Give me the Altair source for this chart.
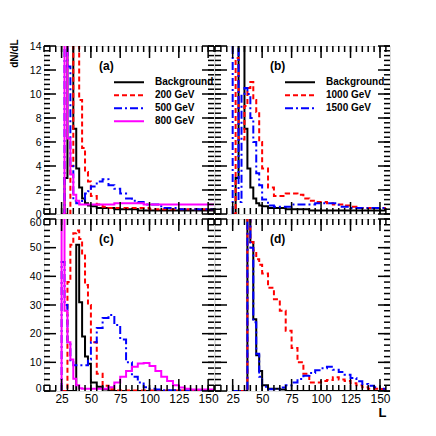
import altair as alt
import pandas as pd

# ---------------- data ----------------
edges = [25, 27.5, 30, 32.5, 35, 37.5, 40, 42.5, 45, 47.5, 50, 55, 60, 65, 70, 75, 80,
         85, 90, 95, 100, 105, 110, 115, 120, 125, 130, 135, 140, 145, 150, 155]

names_left = ["Background", "200 GeV", "500 GeV", "800 GeV"]
names_right = ["Background", "1000 GeV", "1500 GeV"]

# panel (a)
a_bkg = [0, 3, 22, 30, 7.1, 3.8, 2.2, 1.3, 0.9, 0.7,
         0.65, 0.5, 0.5, 0.5, 0.4, 0.4, 0.4, 0.4, 0.3, 0.3, 0.3, 0.3, 0.3, 0.3, 0.3, 0.3, 0.3, 0.3, 0.3, 0.3, 0.3]
a_red = [0, 0, 0, 4, 20, 16, 9.5, 5.5, 3.5, 2.7,
         1.5, 0.8, 0.6, 0.5, 0.5, 0.5, 0.5, 0.5, 0.5, 0.5, 0.4, 0.4, 0.4, 0.4, 0.4, 0.4, 0.4, 0.4, 0.4, 0.4, 0.4]
a_blue = [0, 20, 12.3, 4, 1.1, 0.9, 0.9, 1.2, 1.7, 1.9,
          2.3, 2.7, 2.9, 2.4, 2.1, 1.7, 1.3, 1.1, 1.0, 0.8, 0.8, 0.8, 0.5, 0.5, 0.5, 0.4, 0.4, 0.4, 0.4, 0.4, 0.4]
a_mag = [0, 25, 6.3, 3.3, 1.6, 1.1, 0.8, 0.8, 0.8, 0.8,
         0.8, 0.8, 0.8, 0.8, 0.9, 0.9, 0.9, 0.9, 0.9, 0.8, 0.8, 0.8, 0.8, 0.8, 0.8, 0.8, 0.8, 0.8, 0.8, 0.8, 0.8]

# panel (b)
b_bkg = a_bkg
b_red = [0, 13, 6.2, 6.2, 9, 10.5, 11, 9.5, 8.5, 6,
         3.8, 2.2, 1.5, 1.5, 1.7, 1.7, 1.6, 1.3, 1.1, 1.0, 1.0, 0.9, 0.8, 0.8, 0.7, 0.6, 0.5, 0.5, 0.5, 0.5, 0.5]
b_blue = [18, 18, 1, 10, 10.5, 10, 8, 6, 3.4, 2.4,
          1.2, 0.7, 0.6, 0.6, 0.6, 0.8, 0.8, 0.8, 0.8, 0.9, 0.9, 0.9, 0.9, 0.6, 0.6, 0.5, 0.5, 0.5, 0.5, 0.5, 0.5]

# panel (c)
c_bkg = [0, 0, 0, 0, 0, 51, 31, 19, 12, 9.5,
         3, 1.5, 0.5, 0, 0, 0, 0, 0, 0, 0, 0, 0, 0, 0, 0, 0, 0, 0, 0, 0, 0]
c_red = [0, 0, 38, 51, 55, 56, 53, 48, 37, 30,
         17, 6, 1.8, 0.6, 0.2, 0.2, 0.2, 0.2, 0.2, 0.2, 0.2, 0.2, 0.2, 0.2, 0.2, 0.2, 0.2, 0.2, 0.2, 0.2, 0.2]
c_blue = [45, 30, 17, 10, 9, 9, 9, 9, 9, 11,
          17, 22, 25.5, 26.5, 23, 18, 10, 5, 3, 1.3, 0.8, 0.5, 0.3, 0.3, 0.3, 0.3, 0.3, 0.3, 0.3, 0.3, 0.3]
c_mag = [75, 28, 17, 11, 4.3, 2, 1, 0.8, 0.8, 0.8,
         0.8, 0.8, 0.8, 1.3, 3, 5, 7, 8.5, 9.6, 9.8, 8.7, 7, 5, 3.5, 2, 1.2, 0.8, 0.5, 0.5, 0.5, 0.5]

# panel (d)
d_bkg = [0, 0, 0, 0, 0, 62, 52, 25, 12.5, 7,
         2, 0.8, 0.8, 0.5, 0, 0, 0, 0, 0, 0, 0, 0, 0, 0, 0, 0, 0, 0, 0, 0, 0]
d_red = [0, 0, 0, 0, 0, 62, 52, 49, 46, 44,
         41, 36, 32, 28, 21, 15, 10, 6, 3, 3, 3.5, 3.8, 4.8, 4, 3.5, 2.7, 2, 1.3, 0.8, 0.8, 0.7]
d_blue = [0, 0, 0, 0, 0, 64, 50, 24, 13, 5,
          1.5, 0.6, 0.6, 1.2, 2, 3, 4.2, 5.3, 6.3, 7.2, 7.9, 8.5, 7.4, 6.6, 5.7, 4.5, 3.4, 2.4, 1.8, 1.3, 0.8]

# axis tick values
x_labels = [25, 50, 75, 100, 125, 150]
x_minor = [10, 15, 20, 25, 30, 35, 40, 45, 50, 55, 60, 65, 70, 75, 80, 85, 90, 95, 100,
           105, 110, 115, 120, 125, 130, 135, 140, 145, 150, 155]
y_top_labels = [0, 2, 4, 6, 8, 10, 12, 14]
y_top_minor = [round(i * 0.4, 1) for i in range(36)]
y_bot_labels = [0, 10, 20, 30, 40, 50, 60]
y_bot_minor = [2 * i for i in range(31)]

colors_left = ["black", "#ff0000", "#0000ff", "#ff00ff"]
colors_right = ["black", "#ff0000", "#0000ff"]
dashes_left = [[1, 0], [5, 3], [8, 3, 2, 3], [1, 0]]
dashes_right = [[1, 0], [5, 3], [8, 3, 2, 3]]

FONT = "Liberation Sans"


def steps(values, name):
    rows = [{"x": edges[0], "y": 0.0, "s": name, "o": 0}]
    o = 1
    for k, v in enumerate(values):
        rows.append({"x": edges[k], "y": v, "s": name, "o": o})
        o += 1
        rows.append({"x": edges[k + 1], "y": v, "s": name, "o": o})
        o += 1
    return rows


def panel(series, names, colors, dashes, xdom, ydom, w, h, label,
          ymaj, ymin, show_x, show_y, show_legend, xtitle="", ytitle="", flush=False):
    rows = []
    for name, vals in zip(names, series):
        rows += steps(vals, name)
    df = pd.DataFrame(rows)
    xs = alt.Scale(domain=xdom, nice=False, zero=False)
    ys = alt.Scale(domain=ydom, nice=False, zero=False)

    if show_x:
        xaxis = alt.Axis(values=x_labels, ticks=False, domain=False, grid=False,
                         labelPadding=2, labelFontSize=12,
                         titleX=w - 8, titleY=15, titleAlign="center", titleBaseline="top",
                         titleFontSize=13)
    else:
        xaxis = None
    if show_y:
        if flush:
            yaxis = alt.Axis(values=ymaj, ticks=False, domain=False, grid=False,
                             labelPadding=3, labelFontSize=10.5, labelFlush=True,
                             labelFlushOffset=2)
        else:
            yaxis = alt.Axis(values=ymaj, ticks=False, domain=False, grid=False,
                             labelPadding=3, labelFontSize=10.5,
                             titleX=-25, titleY=-7, titleAlign="right", titleBaseline="bottom",
                             titleFontSize=10)
    else:
        yaxis = None

    def X(field):
        return alt.X(field, scale=xs, title=xtitle, axis=xaxis)

    def Y(field):
        return alt.Y(field, scale=ys, title=ytitle, axis=yaxis)

    if show_legend:
        leg = alt.Legend(orient="none", legendX=69, legendY=30, title=None,
                         symbolType="stroke", symbolSize=900, symbolStrokeWidth=2,
                         labelFont=FONT, labelFontSize=10, labelFontWeight="bold",
                         labelColor="black", labelOffset=10, clipHeight=12.4,
                         rowPadding=0, padding=0)
        cenc = alt.Color("s:N", scale=alt.Scale(domain=names, range=colors), legend=leg, sort=names)
        denc = alt.StrokeDash("s:N", scale=alt.Scale(domain=names, range=dashes), legend=leg, sort=names)
    else:
        cenc = alt.Color("s:N", scale=alt.Scale(domain=names, range=colors), legend=None, sort=names)
        denc = alt.StrokeDash("s:N", scale=alt.Scale(domain=names, range=dashes), legend=None, sort=names)

    lines = alt.Chart(df).mark_line(strokeWidth=2, clip=True).encode(
        x=X("x:Q"), y=Y("y:Q"), color=cenc, strokeDash=denc, order=alt.Order("o:Q"))

    layers = [lines]
    for vals, L in [(x_labels, 12), (x_minor, 6)]:
        base = alt.Chart(pd.DataFrame({"x": vals})).mark_rule(color="black", strokeWidth=1.5)
        layers.append(base.encode(x=X("x:Q"), y=alt.value(h), y2=alt.value(h - L)))
        layers.append(base.encode(x=X("x:Q"), y=alt.value(0), y2=alt.value(L)))
    for vals, L in [(ymaj, 12), (ymin, 6)]:
        base = alt.Chart(pd.DataFrame({"y": vals})).mark_rule(color="black", strokeWidth=1.5)
        layers.append(base.encode(y=Y("y:Q"), x=alt.value(0), x2=alt.value(L)))
        layers.append(base.encode(y=Y("y:Q"), x=alt.value(w), x2=alt.value(w - L)))

    txt = alt.Chart(pd.DataFrame({"t": [label]})).mark_text(
        font=FONT, fontSize=12, fontWeight="bold", align="left", baseline="middle", color="black"
    ).encode(text="t:N", x=alt.value(55), y=alt.value(20))
    layers.append(txt)

    return alt.layer(*layers).properties(width=w, height=h)


WL, WR, HT, HB = 170, 175, 168, 172

pa = panel([a_bkg, a_red, a_blue, a_mag], names_left, colors_left, dashes_left,
           [10, 155], [0, 14], WL, HT, "(a)", y_top_labels, y_top_minor,
           False, True, True, ytitle="dN/dL")
pb = panel([b_bkg, b_red, b_blue], names_right, colors_right, dashes_right,
           [10, 158.5], [0, 14], WR, HT, "(b)", y_top_labels, y_top_minor,
           False, False, True)
pc = panel([c_bkg, c_red, c_blue, c_mag], names_left, colors_left, dashes_left,
           [10, 155], [0, 60], WL, HB, "(c)", y_bot_labels, y_bot_minor,
           True, True, False, flush=True)
pd_ = panel([d_bkg, d_red, d_blue], names_right, colors_right, dashes_right,
            [10, 158.5], [0, 60], WR, HB, "(d)", y_bot_labels, y_bot_minor,
            True, False, False, xtitle="L")

ind = dict(x="independent", y="independent", color="independent", strokeDash="independent")

chart = alt.concat(pa, pb, pc, pd_, columns=2, spacing={"row": 5, "column": 1},
                   bounds="flush").resolve_scale(**ind).resolve_legend(
    color="independent", strokeDash="independent"
).properties(
    padding={"left": 0, "top": 30, "right": 5, "bottom": 5}
).configure_view(
    stroke="black", strokeWidth=2
).configure_axis(
    labelFont=FONT, labelFontWeight="bold", labelColor="black",
    titleFont=FONT, titleFontWeight="bold", titleColor="black"
).configure(background="white")

chart.save("out.html", embed_options={"renderer": "svg", "actions": False})
